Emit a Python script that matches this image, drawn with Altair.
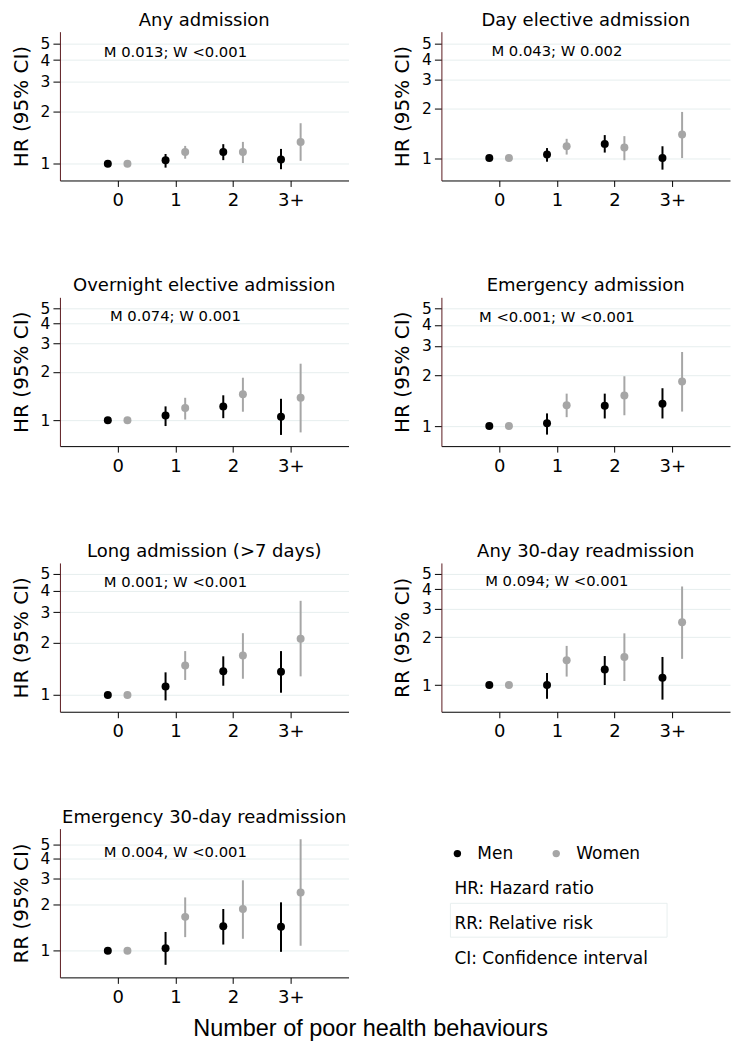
import altair as alt
import pandas as pd

categories = ["0", "1", "2", "3+"]
titles = [
    "Any admission",
    "Day elective admission",
    "Overnight elective admission",
    "Emergency admission",
    "Long admission (>7 days)",
    "Any 30-day readmission",
    "Emergency 30-day readmission",
]
ylabels = ["HR (95% CI)"] * 5 + ["RR (95% CI)"] * 2
pvals = [
    "M 0.013; W <0.001",
    "M 0.043; W 0.002",
    "M 0.074; W 0.001",
    "M <0.001; W <0.001",
    "M 0.001; W <0.001",
    "M 0.094; W <0.001",
    "M 0.004, W <0.001",
]

men_est = [
    [1, 1.05, 1.17, 1.06],
    [1, 1.05, 1.22, 1.00],
    [1, 1.07, 1.22, 1.05],
    [1, 1.04, 1.32, 1.36],
    [1, 1.12, 1.37, 1.36],
    [1, 1.00, 1.25, 1.11],
    [1, 1.04, 1.45, 1.44],
]
men_lo = [
    [1, 0.95, 1.05, 0.93],
    [1, 0.95, 1.08, 0.85],
    [1, 0.92, 1.03, 0.81],
    [1, 0.89, 1.11, 1.11],
    [1, 0.93, 1.13, 1.03],
    [1, 0.82, 1.00, 0.81],
    [1, 0.81, 1.10, 0.985],
]
men_hi = [
    [1, 1.14, 1.30, 1.22],
    [1, 1.15, 1.38, 1.18],
    [1, 1.22, 1.43, 1.36],
    [1, 1.19, 1.56, 1.68],
    [1, 1.35, 1.67, 1.79],
    [1, 1.19, 1.52, 1.50],
    [1, 1.33, 1.88, 2.08],
]
women_est = [
    [1, 1.17, 1.17, 1.34],
    [1, 1.18, 1.16, 1.39],
    [1, 1.19, 1.45, 1.38],
    [1, 1.33, 1.52, 1.84],
    [1, 1.48, 1.69, 2.11],
    [1, 1.43, 1.50, 2.48],
    [1, 1.67, 1.88, 2.41],
]
women_lo = [
    [1, 1.07, 1.01, 1.04],
    [1, 1.05, 0.97, 1.00],
    [1, 1.01, 1.13, 0.84],
    [1, 1.13, 1.16, 1.22],
    [1, 1.22, 1.24, 1.28],
    [1, 1.13, 1.06, 1.46],
    [1, 1.23, 1.20, 1.08],
]
women_hi = [
    [1, 1.27, 1.34, 1.72],
    [1, 1.31, 1.36, 1.91],
    [1, 1.38, 1.84, 2.25],
    [1, 1.56, 1.98, 2.76],
    [1, 1.79, 2.27, 3.49],
    [1, 1.76, 2.11, 4.15],
    [1, 2.24, 2.90, 5.39],
]
ydomains = [
    [0.80, 5.85],
    [0.73, 5.89],
    [0.69, 5.83],
    [0.76, 5.84],
    [0.80, 5.77],
    [0.68, 5.83],
    [0.67, 6.33],
]
notes = ["HR: Hazard ratio", "RR: Relative risk", "CI: Confidence interval"]

sexes = ["Men", "Women"]
colors = ["#000000", "#a6a6a6"]

rows = []
for p in range(len(titles)):
    for k in range(len(categories)):
        rows.append(dict(panel=p, k=k, sex="Men", est=men_est[p][k],
                         lo=men_lo[p][k], hi=men_hi[p][k]))
        rows.append(dict(panel=p, k=k, sex="Women", est=women_est[p][k],
                         lo=women_lo[p][k], hi=women_hi[p][k]))
df = pd.DataFrame(rows)

label_expr = "datum.value == 3 ? '3+' : datum.label"
W, H = 289, 149
color_scale = alt.Scale(domain=sexes, range=colors)


def make_panel(p):
    d = df[df.panel == p]
    base = alt.Chart(d).transform_calculate(
        xpos="datum.k + (datum.sex == 'Men' ? -0.17 : 0.17)"
    )
    xscale = alt.Scale(domain=[-1, 4], nice=False, zero=False)
    yscale = alt.Scale(type="log", domain=ydomains[p], nice=False)
    x = alt.X("xpos:Q", scale=xscale,
              axis=alt.Axis(values=[0, 1, 2, 3], labelExpr=label_expr,
                            format="d", title=None, grid=False))
    rules = base.mark_rule(strokeWidth=2).encode(
        x=x,
        y=alt.Y("lo:Q", scale=yscale,
                axis=alt.Axis(values=[1, 2, 3, 4, 5], title=ylabels[p],
                              grid=True, format="d", labelOverlap=False)),
        y2="hi:Q",
        color=alt.Color("sex:N", scale=color_scale, legend=None),
    )
    points = base.mark_circle(size=64, opacity=1).encode(
        x=x,
        y=alt.Y("est:Q"),
        color=alt.Color("sex:N", scale=color_scale, legend=None),
    )
    tdf = pd.DataFrame({"xpos": [1.0], "lo": [4.4], "t": [pvals[p]]})
    txt = alt.Chart(tdf).mark_text(
        fontSize=14.8, font="DejaVu Sans", align="center", baseline="middle",
        color="black"
    ).encode(x="xpos:Q", y="lo:Q", text="t:N")
    return alt.layer(rules, points, txt).properties(
        width=W, height=H, title=alt.TitleParams(titles[p])
    )


panels = [make_panel(p) for p in range(len(titles))]

# Legend / notes panel
ny = alt.Scale(domain=[-0.71, 3.51], reverse=True, nice=False, zero=False)
leg = pd.DataFrame({"sex": sexes, "i": [0, 0]})
lx = alt.Scale(domain=sexes, range=[16, 115], padding=0)
leg_pts = alt.Chart(leg).mark_circle(size=55, opacity=1).encode(
    x=alt.X("sex:N", scale=lx, axis=None),
    y=alt.Y("i:Q", scale=ny, axis=None),
    color=alt.Color("sex:N", scale=color_scale, legend=None),
)
leg_txt = alt.Chart(leg).mark_text(
    align="left", baseline="middle", dx=20, fontSize=17, font="DejaVu Sans",
    color="black"
).encode(
    x=alt.X("sex:N", scale=lx, axis=None),
    y=alt.Y("i:Q", scale=ny, axis=None),
    text="sex:N",
)
nd = pd.DataFrame({"t": notes, "i": [1, 2, 3]})
ntext = alt.Chart(nd).mark_text(
    align="left", baseline="middle", fontSize=17, font="DejaVu Sans", color="black"
).encode(x=alt.value(13), y=alt.Y("i:Q", scale=ny, axis=None), text="t:N")
nbox = alt.Chart(nd[nd.t.str.startswith("RR")]).transform_calculate(
    a="datum.i - 0.59", b="datum.i + 0.37"
).mark_rect(fillOpacity=0, stroke="#e8efef", strokeWidth=1).encode(
    x=alt.value(9), x2=alt.value(226),
    y=alt.Y("a:Q", scale=ny, axis=None), y2="b:Q"
)
notes_panel = alt.layer(nbox, leg_pts, leg_txt, ntext).properties(width=W, height=H)

chart = alt.concat(
    *panels, notes_panel, columns=2, spacing={"row": 68, "column": 44}
).properties(
    title=alt.TitleParams(
        "Number of poor health behaviours", orient="bottom", anchor="middle",
        fontSize=23.5, font="Liberation Sans", fontWeight="normal", offset=11,
        color="black",
    ),
    padding={"left": 3, "top": 3, "right": 5, "bottom": 5},
).configure_view(stroke=None).configure_axis(
    labelFont="DejaVu Sans", titleFont="DejaVu Sans", labelColor="black",
    titleColor="black", titleFontWeight="normal", tickColor="black",
    domainColor="black", labelFontSize=17, titleFontSize=20,
).configure_axisY(
    domainColor="#5a1a1f", tickSize=7, labelPadding=3, titlePadding=9,
    gridColor="#e6eeee", labelAngle=0, labelFontSize=15.5,
).configure_axisX(
    tickSize=6, labelPadding=5, labelFontSize=18,
).configure_title(
    font="DejaVu Sans", fontSize=18, fontWeight="normal", offset=2,
    color="black",
)

chart.save("out.html", embed_options={"renderer": "svg", "actions": False})
